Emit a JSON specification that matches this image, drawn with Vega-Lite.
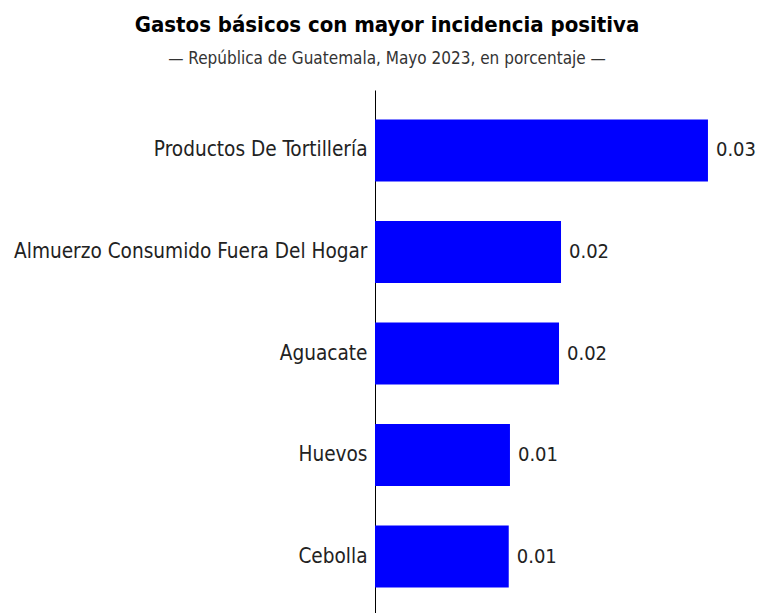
{
  "$schema": "https://vega.github.io/schema/vega-lite/v6.json",
  "autosize": {"type": "none"},
  "padding": {"left": 375, "top": 90, "right": 0, "bottom": 0},
  "width": 394,
  "height": 527,
  "background": "white",
  "title": {
    "text": "Gastos básicos con mayor incidencia positiva",
    "subtitle": "— República de Guatemala, Mayo 2023, en porcentaje —",
    "anchor": "middle",
    "dx": -185,
    "offset": 22,
    "font": "DejaVu Sans Condensed, Roboto",
    "fontSize": 22,
    "fontWeight": "bold",
    "color": "#000000",
    "subtitleFont": "DejaVu Sans Condensed, Roboto",
    "subtitleFontSize": 17,
    "subtitleColor": "#333333",
    "subtitlePadding": 14
  },
  "data": {
    "values": [
      {"gasto": "Productos De Tortillería", "valor": 0.0300},
      {"gasto": "Almuerzo Consumido Fuera Del Hogar", "valor": 0.01676},
      {"gasto": "Aguacate", "valor": 0.01658},
      {"gasto": "Huevos", "valor": 0.01216},
      {"gasto": "Cebolla", "valor": 0.01205}
    ]
  },
  "encoding": {
    "y": {
      "field": "gasto",
      "type": "nominal",
      "sort": null,
      "scale": {"paddingInner": 0.388, "paddingOuter": 0.29},
      "axis": {
        "title": null,
        "ticks": false,
        "domainColor": "#000000",
        "domainWidth": 1,
        "labelFont": "DejaVu Sans Condensed, Roboto",
        "labelFontSize": 20.6,
        "labelColor": "#222222",
        "labelPadding": 8,
        "labelLimit": 500
      }
    },
    "x": {
      "field": "valor",
      "type": "quantitative",
      "scale": {"domain": [0, 0.0355], "nice": false},
      "axis": null
    }
  },
  "layer": [
    {"mark": {"type": "bar", "color": "#0000ff"}},
    {
      "mark": {
        "type": "text",
        "align": "left",
        "baseline": "middle",
        "dx": 8,
        "font": "DejaVu Sans Condensed, Roboto",
        "fontSize": 20,
        "color": "#222222"
      },
      "encoding": {"text": {"field": "valor", "type": "quantitative", "format": ".2f"}}
    }
  ],
  "config": {"view": {"stroke": null}}
}
